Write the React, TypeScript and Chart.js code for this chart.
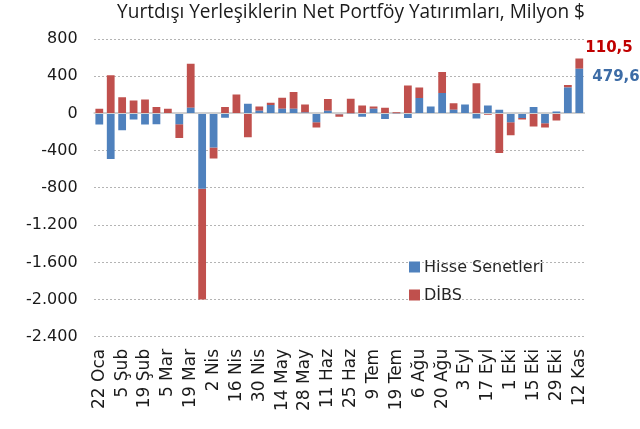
import React, { useEffect, useRef } from "react";
import { Chart, registerables } from "chart.js";

Chart.register(...registerables);

const categories = ['22 Oca','29 Oca','5 Şub','12 Şub','19 Şub','26 Şub','5 Mar','12 Mar','19 Mar','26 Mar','2 Nis','9 Nis','16 Nis','23 Nis','30 Nis','7 May','14 May','21 May','28 May','4 Haz','11 Haz','18 Haz','25 Haz','2 Tem','9 Tem','16 Tem','19 Tem','30 Tem','6 Ağu','13 Ağu','20 Ağu','27 Ağu','3 Eyl','10 Eyl','17 Eyl','24 Eyl','1 Eki','8 Eki','15 Eki','22 Eki','29 Eki','5 Kas','12 Kas'];

const hisse = [-120,-490,-180,-65,-120,-115,-5,-115,60,-810,-365,-45,5,105,30,90,50,50,10,-95,30,-8,3,-35,50,-60,2,-50,165,75,220,40,95,-55,85,40,-95,-50,70,-105,20,280,479.6];

const dibs = [50,410,175,140,150,70,50,-150,475,-1190,-120,70,200,-255,45,25,120,180,85,-55,125,-27,155,85,25,60,10,300,115,-5,225,70,-5,325,-15,-425,-140,-15,-140,-45,-75,25,110.5];

const seriesNames = ['Hisse Senetleri', 'DİBS'];
const lastLabels = ['479,6', '110,5'];
const titleText = 'Yurtdışı Yerleşiklerin Net Portföy Yatırımları, Milyon $';

const BLUE = '#4f81bd';
const RED = '#c0504d';
const FONT = "'DejaVu Sans', sans-serif";

function fmt(v: number): string {
  const s = Math.abs(v).toString().replace(/\B(?=(\d{3})+(?!\d))/g, '.');
  return (v < 0 ? '-' : '') + s;
}

const zeroLinePlugin = {
  id: 'zeroLine',
  beforeDatasetsDraw(chart: any) {
    const ctx = chart.ctx;
    const xs = chart.scales.x;
    const ys = chart.scales.y;
    const y0 = Math.round(ys.getPixelForValue(0));
    ctx.save();
    ctx.fillStyle = '#d0d0d0';
    ctx.fillRect(xs.left, y0 - 1, xs.right - xs.left, 2);
    ctx.restore();
  },
};

const overlayPlugin = {
  id: 'overlay',
  afterDraw(chart: any) {
    const { ctx, scales } = chart;
    const ys = scales.y;
    ctx.save();
    ctx.fillStyle = '#1a1a1a';
    let size = 17;
    ctx.font = `${size}px 'Open Sans', sans-serif`;
    const w = ctx.measureText(titleText).width;
    size = size * 468 / w;
    ctx.font = `${size.toFixed(2)}px 'Open Sans', sans-serif`;
    ctx.textAlign = 'center';
    ctx.textBaseline = 'middle';
    ctx.fillText(titleText, 351, 13);

    ctx.font = `16px ${FONT}`;
    ctx.textAlign = 'left';
    const lx = 409;
    const ly = [267, 295];
    [BLUE, RED].forEach((c, i) => {
      ctx.fillStyle = c;
      ctx.fillRect(lx, ly[i] - 5.5, 11, 11);
      ctx.fillStyle = '#262626';
      ctx.fillText(seriesNames[i], lx + 15, ly[i] + 1);
    });

    const last = categories.length - 1;
    const xp = scales.x.getPixelForValue(last);
    const total = hisse[last] + dibs[last];
    ctx.font = `bold 15px ${FONT}`;
    ctx.fillStyle = '#c00000';
    ctx.textBaseline = 'middle';
    ctx.fillText(lastLabels[1], xp + 6, ys.getPixelForValue(total) - 10);
    ctx.fillStyle = '#3d6ca6';
    ctx.fillText(lastLabels[0], xp + 13, ys.getPixelForValue(hisse[last]) + 8);
    ctx.restore();
  },
};

export default function App() {
  const ref = useRef<HTMLCanvasElement>(null);
  useEffect(() => {
    if (!ref.current) return;
    const chart = new Chart(ref.current, {
      type: 'bar',
      data: {
        labels: categories,
        datasets: [
          { label: seriesNames[0], data: hisse, backgroundColor: BLUE, borderWidth: 0 },
          { label: seriesNames[1], data: dibs, backgroundColor: RED, borderWidth: 0 },
        ],
      },
      options: {
        responsive: false,
        animation: false,
        layout: { padding: { top: 39, right: 55, left: 10, bottom: 14 } },
        datasets: { bar: { categoryPercentage: 1, barPercentage: 0.68 } },
        plugins: { legend: { display: false }, tooltip: { enabled: false }, title: { display: false } },
        scales: {
          x: {
            stacked: true,
            grid: { display: false },
            border: { display: false },
            ticks: {
              autoSkip: false,
              minRotation: 90,
              maxRotation: 90,
              padding: 4,
              color: '#1a1a1a',
              font: { family: FONT, size: 17 },
              callback: function (this: any, v: any, i: number) {
                return i % 2 === 0 ? this.getLabelForValue(v) : '';
              },
            },
          },
          y: {
            stacked: true,
            min: -2400,
            max: 800,
            border: { display: false, dash: [2, 2] },
            grid: {
              display: true,
              drawTicks: false,
              lineWidth: 1,
              color: (c: any) => (c.tick && c.tick.value === 0 ? 'rgba(0,0,0,0)' : '#b4b4b4'),
            },
            ticks: {
              stepSize: 400,
              padding: 16,
              color: '#1a1a1a',
              font: { family: FONT, size: 16 },
              callback: (v: any) => fmt(Number(v)),
            },
          },
        },
      },
      plugins: [zeroLinePlugin, overlayPlugin],
    });
    return () => chart.destroy();
  }, []);
  return (
    <div style={{ position: 'absolute', left: 0, top: 0, width: 640, height: 429, background: '#fff' }}>
      <canvas ref={ref} width={640} height={429} style={{ display: 'block' }} />
    </div>
  );
}
